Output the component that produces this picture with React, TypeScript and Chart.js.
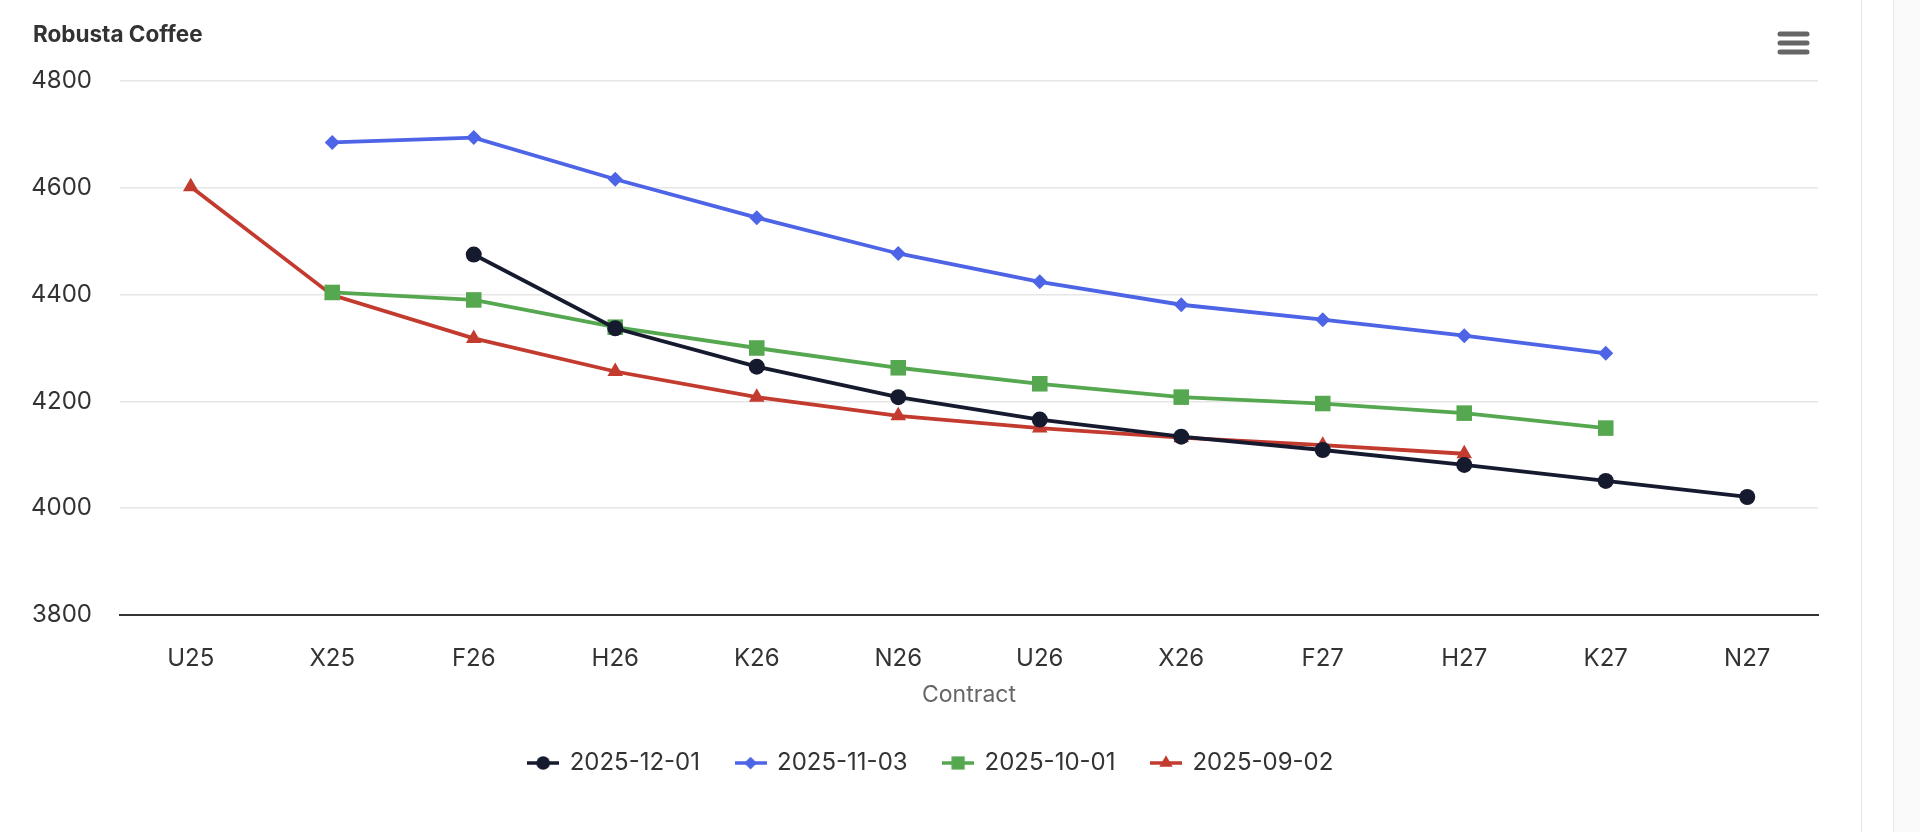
import React, { useEffect, useRef } from 'react';
import { Chart, registerables } from 'chart.js';
import { drawPoint } from 'chart.js/helpers';

Chart.register(...registerables);

const chartTitle = 'Robusta Coffee';
const xAxisTitle = 'Contract';
const contracts = ['U25', 'X25', 'F26', 'H26', 'K26', 'N26', 'U26', 'X26', 'F27', 'H27', 'K27', 'N27'];
const yTicks = [3800, 4000, 4200, 4400, 4600, 4800];

const seriesNames = ['2025-12-01', '2025-11-03', '2025-10-01', '2025-09-02'];
const values20251201 = [null, null, 4475, 4337, 4265, 4208, 4166, 4134, 4109, 4081, 4051, 4021];
const values20251103 = [null, 4685, 4694, 4616, 4544, 4477, 4424, 4381, 4353, 4323, 4290, null];
const values20251001 = [null, 4404, 4390, 4339, 4300, 4263, 4233, 4208, 4196, 4178, 4150, null];
const values20250902 = [4602, 4399, 4318, 4256, 4208, 4173, 4150, 4132, 4118, 4102, null, null];

const seriesColors = ['#161a2e', '#4d64e6', '#55a84f', '#c33a2e'];
const seriesMarkers = ['circle', 'rectRot', 'rect', 'triangle'];
const markerRadius = [8, 7.5, 11, 9];

const FONT = 'Inter, "Noto Sans", sans-serif';

function legendIcon(color: string, style: string, radius: number): HTMLCanvasElement {
  const c = document.createElement('canvas');
  c.width = 32;
  c.height = 20;
  const ctx = c.getContext('2d') as CanvasRenderingContext2D;
  ctx.strokeStyle = color;
  ctx.lineWidth = 3.5;
  ctx.beginPath();
  ctx.moveTo(0, 10);
  ctx.lineTo(32, 10);
  ctx.stroke();
  ctx.fillStyle = color;
  ctx.strokeStyle = color;
  ctx.lineWidth = 0;
  drawPoint(ctx, { pointStyle: style as any, radius, rotation: 0, borderWidth: 0 }, 16, 10);
  return c;
}

const headerPlugin = {
  id: 'header',
  beforeDraw(chart: any) {
    // centre the legend on the full chart width (as in the original layout)
    if (chart.legend) {
      chart.legend.left = 44;
      chart.legend.right = chart.width - 44;
    }
    const ctx = chart.ctx as CanvasRenderingContext2D;
    ctx.save();
    ctx.fillStyle = '#ffffff';
    ctx.fillRect(0, 0, chart.width, chart.height);
    ctx.restore();
  },
  afterDraw(chart: any) {
    const ctx = chart.ctx as CanvasRenderingContext2D;
    ctx.save();
    ctx.fillStyle = '#333333';
    ctx.font = `bold 22.5px ${FONT}`;
    ctx.textBaseline = 'middle';
    ctx.textAlign = 'left';
    ctx.fillText(chartTitle, 33, 35);
    // export menu icon
    ctx.strokeStyle = '#666666';
    ctx.lineWidth = 5;
    ctx.lineCap = 'round';
    for (const yy of [34, 43, 52]) {
      ctx.beginPath();
      ctx.moveTo(1780, yy);
      ctx.lineTo(1807, yy);
      ctx.stroke();
    }
    ctx.restore();
  },
};

export default function App() {
  const ref = useRef<HTMLCanvasElement | null>(null);

  useEffect(() => {
    if (!ref.current) return;
    const allValues = [values20251201, values20251103, values20251001, values20250902];
    const datasets = seriesNames.map((name, i) => ({
      label: name,
      data: allValues[i],
      borderColor: seriesColors[i],
      backgroundColor: seriesColors[i],
      pointBackgroundColor: seriesColors[i],
      pointBorderColor: seriesColors[i],
      pointBorderWidth: 0,
      pointStyle: seriesMarkers[i],
      pointRadius: markerRadius[i],
      borderWidth: 3.8,
      tension: 0,
      spanGaps: false,
    }));

    const chart = new Chart(ref.current, {
      type: 'line',
      data: { labels: contracts, datasets },
      plugins: [headerPlugin],
      options: {
        animation: false,
        responsive: false,
        devicePixelRatio: 1,
        layout: { padding: { left: 0, right: 44, top: 81, bottom: 47 } },
        plugins: {
          title: { display: false },
          tooltip: { enabled: false },
          legend: {
            position: 'bottom',
            labels: {
              usePointStyle: true,
              pointStyleWidth: 29,
              padding: 36,
              color: '#333333',
              font: { family: FONT, size: 24 },
              generateLabels: (chart: any) =>
                chart.data.datasets.map((ds: any, i: number) => ({
                  text: ds.label,
                  fillStyle: seriesColors[i],
                  strokeStyle: seriesColors[i],
                  lineWidth: 0,
                  pointStyle: legendIcon(seriesColors[i], seriesMarkers[i], markerRadius[i] * 0.85),
                  hidden: false,
                  datasetIndex: i,
                  fontColor: '#333333',
                })),
            },
          },
        },
        scales: {
          x: {
            type: 'category',
            offset: true,
            grid: { display: false, drawTicks: false },
            border: { display: true, color: '#333333', width: 2 },
            ticks: {
              color: '#333333',
              padding: 29,
              maxRotation: 0,
              autoSkip: false,
              font: { family: FONT, size: 24 },
            },
            title: {
              display: true,
              text: xAxisTitle,
              color: '#666666',
              font: { family: FONT, size: 23 },
              padding: { top: 0, bottom: 6 },
            },
            afterFit: (scale: any) => {
              scale.height = 100;
            },
          },
          y: {
            min: yTicks[0],
            max: yTicks[yTicks.length - 1],
            afterBuildTicks: (scale: any) => {
              scale.ticks = yTicks.map((v) => ({ value: v }));
            },
            grid: {
              color: (c: any) => (c.tick && c.tick.value === yTicks[0] ? 'rgba(0,0,0,0)' : '#e6e6e6'),
              lineWidth: 1.5,
              drawTicks: false,
            },
            border: { display: false },
            ticks: {
              color: '#333333',
              padding: 28,
              font: { family: FONT, size: 24 },
              callback: (v: any) => String(v),
            },
            afterFit: (scale: any) => {
              scale.width = 120;
            },
          },
        },
      },
    });
    return () => chart.destroy();
  }, []);

  return (
    <div style={{ position: 'fixed', left: 0, top: 0, width: 1920, height: 832, background: '#ffffff', overflow: 'hidden' }}>
      <canvas ref={ref} width={1862} height={832} style={{ position: 'absolute', left: 0, top: 0, width: 1862, height: 832 }} />
      <div style={{ position: 'absolute', left: 1861, top: 0, width: 1, height: 832, background: '#e4e4e4' }} />
      <div style={{ position: 'absolute', left: 1893, top: 0, width: 27, height: 832, background: '#fafafa', borderLeft: '1px solid #ececec' }} />
    </div>
  );
}
